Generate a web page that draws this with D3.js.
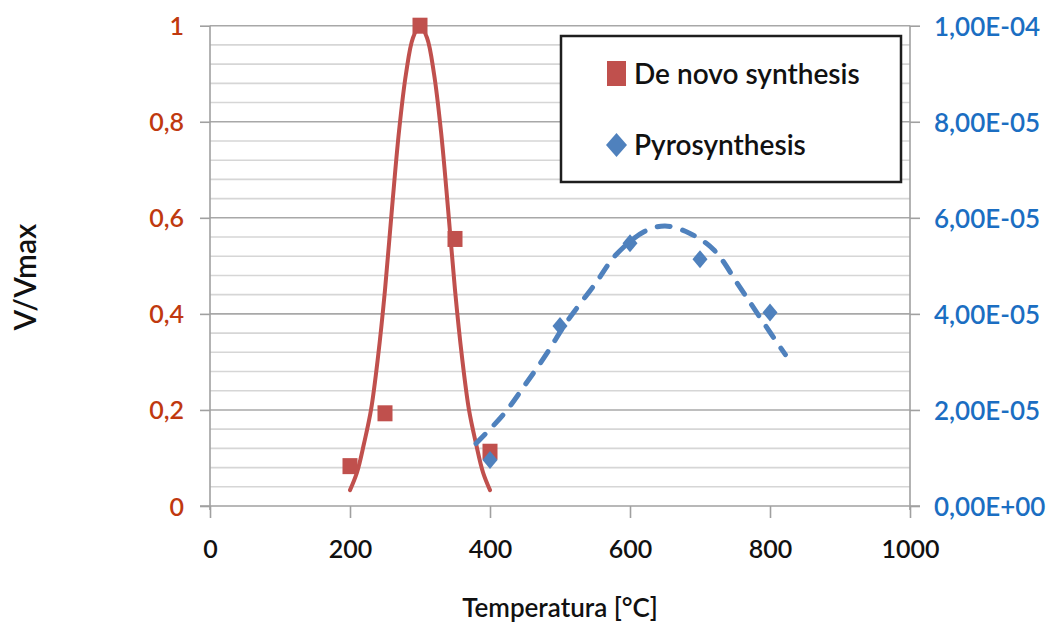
<!DOCTYPE html>
<html>
<head>
<meta charset="utf-8">
<script src="https://cdn.jsdelivr.net/npm/d3@7"></script>
<style>
  html, body { margin: 0; padding: 0; background: #ffffff; }
  svg { display: block; font-family: Lato, "Open Sans", sans-serif; }
</style>
</head>
<body>
<svg id="chart" width="1049" height="632"></svg>
<script>
// ---- data ----
const xTicks = [0, 200, 400, 600, 800, 1000];
const yTicksLeft = [0, 0.2, 0.4, 0.6, 0.8, 1];
const yTickLabelsLeft = ["0", "0,2", "0,4", "0,6", "0,8", "1"];
const yTicksRight = [0, 2e-5, 4e-5, 6e-5, 8e-5, 1e-4];
const yTickLabelsRight = ["0,00E+00", "2,00E-05", "4,00E-05", "6,00E-05", "8,00E-05", "1,00E-04"];

// De novo synthesis (left axis, V/Vmax)
const deNovoT = [200, 250, 300, 350, 400];
const deNovoV = [0.083, 0.193, 1.0, 0.556, 0.113];

// Pyrosynthesis (right axis)
const pyroT = [400, 500, 600, 700, 800];
const pyroV = [0.96e-5, 3.75e-5, 5.47e-5, 5.14e-5, 4.03e-5];

// Trend curve of De novo synthesis
const deNovoFitT = [200, 210, 220, 230, 240, 250, 260, 270, 280, 290, 300, 310, 320, 330, 340, 350, 360, 370, 380, 390, 400];
const deNovoFitV = [0.033, 0.07, 0.13, 0.2, 0.31, 0.45, 0.62, 0.78, 0.9, 0.975, 1.0, 0.975, 0.9, 0.78, 0.62, 0.45, 0.31, 0.2, 0.13, 0.07, 0.033];

// Trend curve of Pyrosynthesis
const pyroFitT = [380, 420, 450, 480, 510, 550, 580, 620, 650, 685, 720, 755, 785, 822];
const pyroFitV = [1.30e-5, 1.92e-5, 2.52e-5, 3.15e-5, 3.84e-5, 4.62e-5, 5.23e-5, 5.71e-5, 5.83e-5, 5.68e-5, 5.33e-5, 4.60e-5, 3.94e-5, 3.15e-5];

const seriesNames = ["De novo synthesis", "Pyrosynthesis"];
const xTitle = "Temperatura [°C]";
const yTitle = "V/Vmax";

// ---- layout ----
const red = "#C0504D", blue = "#4F81BD";
const redText = "#C0390F", blueText = "#1B6EC2";
const L = 210, R = 910, T = 25.7, B = 506;

const svg = d3.select("#chart");
const x = d3.scaleLinear().domain([0, 1000]).range([L, R]);
const y = d3.scaleLinear().domain([0, 1]).range([B, T]);
const y2 = d3.scaleLinear().domain([0, 1e-4]).range([B, T]);

// gridlines: minor every 0.04, major every 0.2
const minor = d3.range(0, 26).map(i => i * 0.04).filter(v => Math.abs(v / 0.2 - Math.round(v / 0.2)) > 1e-6);
svg.append("g").selectAll("line").data(minor).join("line")
  .attr("x1", L).attr("x2", R)
  .attr("y1", d => y(d)).attr("y2", d => y(d))
  .attr("stroke", "#d6d6d6").attr("stroke-width", 1.6);
svg.append("g").selectAll("line").data(yTicksLeft.slice(1)).join("line")
  .attr("x1", L).attr("x2", R)
  .attr("y1", d => y(d)).attr("y2", d => y(d))
  .attr("stroke", "#a8a8a8").attr("stroke-width", 1.6);

// axes
const axisColor = "#a0a0a0";
const gL = svg.append("g").attr("transform", `translate(${L},0)`)
  .call(d3.axisLeft(y).tickValues(yTicksLeft).tickSize(10).tickPadding(16)
    .tickFormat((d, i) => yTickLabelsLeft[i]));
const gR = svg.append("g").attr("transform", `translate(${R},0)`)
  .call(d3.axisRight(y2).tickValues(yTicksRight).tickSize(10).tickPadding(14)
    .tickFormat((d, i) => yTickLabelsRight[i]));
const gB = svg.append("g").attr("transform", `translate(0,${B})`)
  .call(d3.axisBottom(x).tickValues(xTicks).tickSize(12).tickPadding(22)
    .tickFormat(d3.format("d")));

[gL, gR, gB].forEach(g => {
  g.select(".domain").attr("stroke", axisColor).attr("stroke-width", 1.6);
  g.selectAll(".tick line").attr("stroke", axisColor).attr("stroke-width", 1.6);
  g.selectAll("text").attr("font-family", "Lato, sans-serif").attr("font-size", 25).attr("font-weight", 600);
});
gL.select(".domain").attr("d", `M0,${T}V${B + 4}`);
gR.select(".domain").attr("d", `M0,${T}V${B + 4}`);
gB.select(".domain").attr("d", `M${L - 10},0H${R + 10}`);
gL.selectAll("text").attr("fill", redText).attr("dy", "0.36em");
gR.selectAll("text").attr("fill", blueText).attr("font-size", 26).attr("dy", "0.36em");
gB.selectAll("text").attr("fill", "#111");

// axis titles
svg.append("text").attr("transform", `translate(36,277) rotate(-90)`)
  .attr("text-anchor", "middle").attr("font-size", 30).attr("font-weight", 600)
  .attr("fill", "#111").text(yTitle);
svg.append("text").attr("x", 560).attr("y", 617)
  .attr("text-anchor", "middle").attr("font-size", 26).attr("font-weight", 600)
  .attr("fill", "#111").text(xTitle);

// trend curves
const redLine = d3.line().x(d => x(d[0])).y(d => y(d[1])).curve(d3.curveCatmullRom);
svg.append("path").datum(deNovoFitT.map((t, i) => [t, deNovoFitV[i]]))
  .attr("d", redLine).attr("fill", "none").attr("stroke", red)
  .attr("stroke-width", 4).attr("stroke-linecap", "round");

const blueLine = d3.line().x(d => x(d[0])).y(d => y2(d[1])).curve(d3.curveCatmullRom);
svg.append("path").datum(pyroFitT.map((t, i) => [t, pyroFitV[i]]))
  .attr("d", blueLine).attr("fill", "none").attr("stroke", blue)
  .attr("stroke-width", 5).attr("stroke-linecap", "round")
  .attr("stroke-dasharray", "13,13");

// markers
svg.append("g").selectAll("rect").data(deNovoT.map((t, i) => [t, deNovoV[i]])).join("rect")
  .attr("x", d => x(d[0]) - 7.5).attr("y", d => y(d[1]) - 8)
  .attr("width", 15).attr("height", 16).attr("fill", red);

const diamond = (cx, cy, w, h) => `M${cx},${cy - h / 2}L${cx + w / 2},${cy}L${cx},${cy + h / 2}L${cx - w / 2},${cy}Z`;
svg.append("g").selectAll("path").data(pyroT.map((t, i) => [t, pyroV[i]])).join("path")
  .attr("d", d => diamond(x(d[0]), y2(d[1]), 15, 18)).attr("fill", blue);

// legend
const lg = svg.append("g");
lg.append("rect").attr("x", 561).attr("y", 36).attr("width", 340).attr("height", 146)
  .attr("fill", "#fff").attr("stroke", "#1e1e1e").attr("stroke-width", 2.5);
lg.append("rect").attr("x", 607).attr("y", 61).attr("width", 19).attr("height", 25).attr("fill", red);
lg.append("path").attr("d", diamond(616.5, 145, 21, 24)).attr("fill", blue);
lg.append("text").attr("x", 634).attr("y", 74).attr("dy", "0.36em")
  .attr("font-size", 28).attr("font-weight", 600).attr("fill", "#111").text(seriesNames[0]);
lg.append("text").attr("x", 634).attr("y", 145).attr("dy", "0.36em")
  .attr("font-size", 28).attr("font-weight", 600).attr("fill", "#111").text(seriesNames[1]);
</script>
</body>
</html>
